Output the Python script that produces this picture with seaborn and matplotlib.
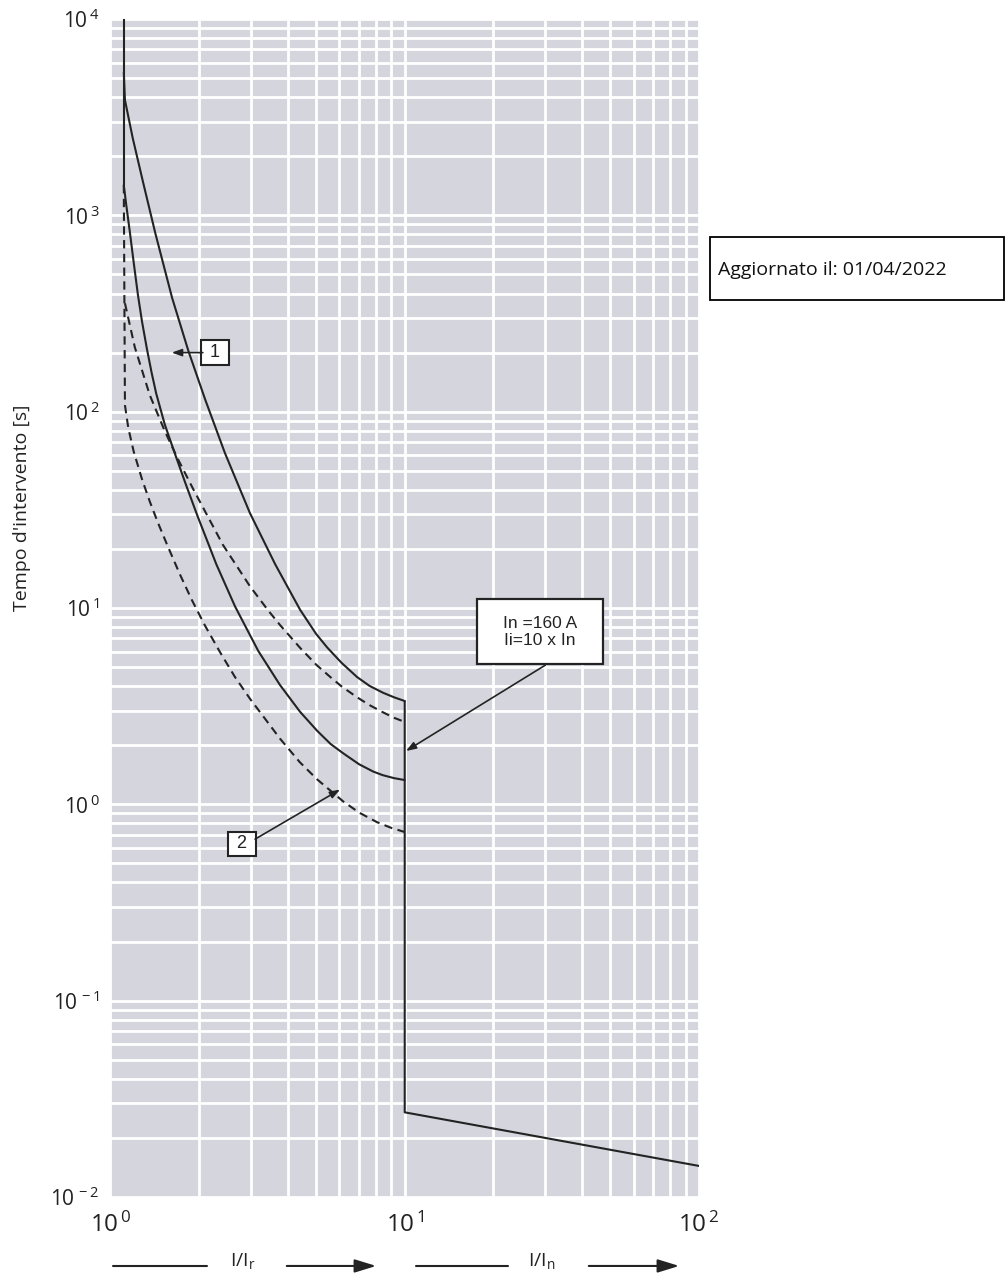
import numpy as np
import pandas as pd
import seaborn as sns
import matplotlib.pyplot as plt
from matplotlib.ticker import FixedLocator, NullFormatter, FuncFormatter
from matplotlib.patches import Rectangle, FancyArrowPatch
from matplotlib.lines import Line2D

# Valori (I/Ir, tempo in secondi)
start_x = [1.11, 1.11]
start_t = [10000, 1427]

curve1_x = [1.11, 1.12, 1.19, 1.29, 1.42, 1.62, 1.84, 2.10, 2.45, 2.98, 3.63, 4.41, 5.0, 5.45,
            6.1, 6.89, 7.6, 8.45, 9.2, 10.0]
curve1_t = [5370, 3870, 2480, 1480, 813, 380, 204, 115, 61.5, 30.4, 16.7, 9.8, 7.38, 6.3,
            5.26, 4.45, 4.01, 3.70, 3.51, 3.36]

curve2_x = [1.11, 1.13, 1.165, 1.197, 1.24, 1.28, 1.33, 1.38, 1.43, 1.53, 1.66, 1.80, 1.97,
            2.29, 2.65, 3.18, 3.77, 4.41, 5.04, 5.6, 6.18, 7.0, 7.81, 8.4, 9.2, 10.0]
curve2_t = [1427, 1148, 813, 589, 393, 288, 209, 158, 124, 86, 60.5, 43, 29.8,
            16.7, 10.2, 6.04, 4.05, 2.96, 2.37, 2.03, 1.82, 1.60, 1.47, 1.41, 1.36, 1.33]

dash_hi_x = [1.12, 1.21, 1.36, 1.53, 1.70, 1.91, 2.41, 2.98, 3.43, 3.77, 4.41, 5.0, 5.58,
             6.1, 6.89, 7.6, 8.45, 9.2, 10.0]
dash_hi_t = [357, 213, 121.6, 79.6, 56.9, 40.4, 21.0, 12.9, 9.75, 8.19, 6.27, 5.15, 4.46,
             3.99, 3.51, 3.20, 2.94, 2.76, 2.63]

dash_lo_x = [1.11, 1.12, 1.15, 1.20, 1.28, 1.36, 1.45, 1.56, 1.72, 1.89, 2.1, 2.36, 2.65,
             2.98, 3.77, 4.4, 5.04, 6.18, 7.0, 8.06, 9.0, 10.0]
dash_lo_t = [1427, 108, 82.5, 62.5, 45.3, 34.9, 27.2, 20.9, 14.9, 11.0, 8.09, 5.94, 4.45,
             3.45, 2.16, 1.64, 1.34, 1.035, 0.908, 0.811, 0.759, 0.723]

magnetic_x = [10, 10, 100]
magnetic_t = [3.36, 0.027, 0.0144]

x_decades = [1, 10, 100]
t_decades = [0.01, 0.1, 1, 10, 100, 1000, 10000]

LINE = '#232323'
BG = '#d5d5de'
DASH = (0, (4, 2.6))


def draw_curve(ax, x, t, linestyle='-'):
    """Disegna una curva di intervento con seaborn."""
    data = pd.DataFrame({'I': x, 't': t})
    sns.lineplot(data=data, x='I', y='t', ax=ax, estimator=None, sort=False,
                 color=LINE, linewidth=1.5, linestyle=linestyle)


def exp_label(v, pos):
    return r'$10^{\,%d}$' % int(round(np.log10(v)))


def minor_ticks(decades):
    return [d * k for d in decades[:-1] for k in range(2, 10)]


def main():
    sns.set_theme(style='darkgrid')
    plt.rcParams['font.family'] = ['Open Sans', 'DejaVu Sans']
    plt.rcParams['mathtext.fontset'] = 'custom'
    plt.rcParams['mathtext.rm'] = 'Open Sans'
    plt.rcParams['mathtext.it'] = 'Open Sans:italic'
    plt.rcParams['mathtext.bf'] = 'Open Sans:bold'

    fig = plt.figure(figsize=(10.06, 12.79), dpi=100)
    fig.patch.set_facecolor('white')
    ax = fig.add_axes([0.1098, 0.0641, 0.585, 0.921])
    ax.set_facecolor(BG)
    ax.set_xscale('log')
    ax.set_yscale('log')

    draw_curve(ax, start_x, start_t)
    draw_curve(ax, curve1_x, curve1_t)
    draw_curve(ax, curve2_x, curve2_t)
    draw_curve(ax, dash_hi_x, dash_hi_t, DASH)
    draw_curve(ax, dash_lo_x, dash_lo_t, DASH)
    draw_curve(ax, magnetic_x, magnetic_t)

    ax.set_xlim(x_decades[0], x_decades[-1])
    ax.set_ylim(t_decades[0], t_decades[-1])
    for axis, dec in ((ax.xaxis, x_decades), (ax.yaxis, t_decades)):
        axis.set_major_locator(FixedLocator(dec))
        axis.set_minor_locator(FixedLocator(minor_ticks(dec)))
        axis.set_major_formatter(FuncFormatter(exp_label))
        axis.set_minor_formatter(NullFormatter())
    ax.grid(which='both', color='white', linewidth=2.0)
    ax.set_axisbelow(True)
    for s in ax.spines.values():
        s.set_visible(False)
    ax.tick_params(axis='x', which='both', length=0, labelsize=17.5, pad=11, labelcolor='#222222')
    ax.tick_params(axis='y', which='both', length=0, labelsize=15, pad=8, labelcolor='#222222')
    ax.set_xlabel('')
    ax.set_ylabel('')

    fig.text(0.022, 0.603, "Tempo d'intervento [s]", rotation=90, ha='center', va='center',
             fontsize=14, color='#222222')

    # Riquadri numerati con frecce
    arrow = dict(arrowstyle='-|>,head_length=0.5,head_width=0.18', mutation_scale=12,
                 color=LINE, lw=1.2, shrinkA=0, shrinkB=0)
    box = dict(boxstyle='square,pad=0.2', facecolor='white', edgecolor=LINE, linewidth=1.5)
    ax.text(2.267, 200, ' 1 ', ha='center', va='center', fontsize=13, family='Liberation Sans',
            bbox=box, color=LINE)
    ax.annotate('', xy=(1.615, 200), xytext=(2.06, 200), arrowprops=arrow)
    ax.text(2.80, 0.631, ' 2 ', ha='center', va='center', fontsize=13, family='Liberation Sans',
            bbox=box, color=LINE)
    ax.annotate('', xy=(6.03, 1.19), xytext=(3.1, 0.665), arrowprops=arrow)

    ax.add_patch(Rectangle((0.6223, 0.4525), 0.2151, 0.0549, transform=ax.transAxes,
                           facecolor='white', edgecolor=LINE, linewidth=1.6, zorder=5))
    ax.text(0.7299, 0.4795, 'In =160 A\nIi=10 x In', transform=ax.transAxes, ha='center',
            va='center', fontsize=12.5, family='Liberation Sans', color=LINE,
            linespacing=1.15, zorder=6)
    ax.annotate('', xy=(10.1, 1.87), xytext=(30.06, 5.12), arrowprops=arrow)

    # Riquadro data aggiornamento
    fig.add_artist(Rectangle((0.7058, 0.7654), 0.2922, 0.04926, transform=fig.transFigure,
                             facecolor='white', edgecolor='black', linewidth=1.3))
    fig.text(0.7137, 0.7889, 'Aggiornato il: 01/04/2022', ha='left', va='center',
             fontsize=14, color='#111111')

    # Frecce in basso I/Ir e I/In
    yb = 0.0102
    for x0, x1, xt, xa0, xa1, sub in [(0.1123, 0.2058, 0.2416, 0.2823, 0.3767, 'r'),
                                     (0.4135, 0.5050, 0.5388, 0.5825, 0.6779, 'n')]:
        fig.add_artist(Line2D([x0, x1], [yb, yb], transform=fig.transFigure, color=LINE, lw=1.5))
        fig.add_artist(FancyArrowPatch((xa0, yb), (xa1, yb), transform=fig.transFigure,
                                       arrowstyle='-|>,head_length=0.65,head_width=0.2',
                                       mutation_scale=20, color=LINE, lw=1.5))
        fig.text(xt, yb + 0.004, r'I/I$_{\mathregular{%s}}$' % sub, ha='center', va='center',
                 fontsize=14, color=LINE)

    fig.savefig('out.png', dpi=100)


if __name__ == "__main__":
    main()
